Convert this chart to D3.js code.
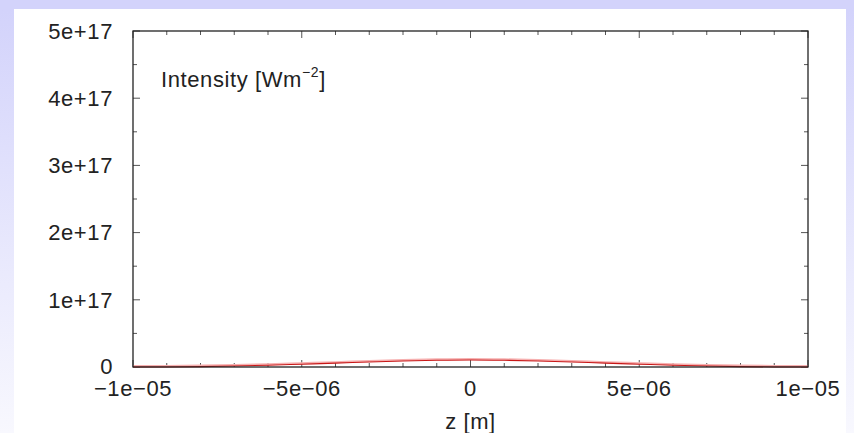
<!DOCTYPE html>
<html><head><meta charset="utf-8">
<script src="https://cdn.jsdelivr.net/npm/d3@7"></script>
<style>html,body{margin:0;padding:0;overflow:hidden;}</style>
</head><body>
<script>
const zValues = [-10e-6,-9e-6,-8e-6,-7e-6,-6e-6,-5e-6,-4e-6,-3e-6,-2e-6,-1e-6,0,1e-6,2e-6,3e-6,4e-6,5e-6,6e-6,7e-6,8e-6,9e-6,10e-6];
const intensity = [0,0.01e16,0.06e16,0.15e16,0.27e16,0.42e16,0.57e16,0.75e16,0.90e16,1.0e16,1.05e16,1.0e16,0.90e16,0.75e16,0.57e16,0.42e16,0.27e16,0.15e16,0.06e16,0.01e16,0];
const xMajorTicks = [-1e-5,-5e-6,0,5e-6,1e-5];
const xTickLabels = ["\u22121e\u221205","\u22125e\u221206","0","5e\u221206","1e\u221205"];
const yMajorTicks = [0,1e17,2e17,3e17,4e17,5e17];
const yTickLabels = ["0","1e+17","2e+17","3e+17","4e+17","5e+17"];
const xTitle = "z [m]";
const seriesLabel = "Intensity [Wm";
const seriesLabelSup = "\u22122";

(function(){
const W = 854, H = 433;
const svg = d3.select("body").append("svg").attr("width", W).attr("height", H);
const defs = svg.append("defs");
const g1 = defs.append("linearGradient").attr("id","bg").attr("x1",0).attr("y1",0).attr("x2",0).attr("y2",1);
g1.append("stop").attr("offset","0%").attr("stop-color","#d2d2fb");
g1.append("stop").attr("offset","100%").attr("stop-color","#f8f8fe");
svg.append("rect").attr("width",W).attr("height",H).attr("fill","url(#bg)");
svg.append("rect").attr("x",0).attr("y",0).attr("width",W).attr("height",9).attr("fill","#d3d3fb");
svg.append("rect").attr("x",14).attr("y",9).attr("width",832).attr("height",H-9).attr("fill","#ffffff");

const mLeft = 133, mRight = 808, mTop = 31, mBottom = 367;
const x = d3.scaleLinear().domain([-1e-5, 1e-5]).range([mLeft, mRight]);
const y = d3.scaleLinear().domain([0, 5e17]).range([mBottom, mTop]);

const axisColor = "#222";
const font = "Liberation Sans, Arial, sans-serif";
const fs = 22;
const ls = 0.6;

const xMinor = d3.range(-10, 11).map(v => v * 1e-6);
const yMinor = d3.range(0, 11).map(v => v * 5e16);
const tg = svg.append("g").attr("stroke", "#555").attr("stroke-width", 1);
xMinor.forEach(v => {
  const major = xMajorTicks.some(m => Math.abs(m - v) < 1e-12);
  const len = major ? 7 : 4;
  tg.append("line").attr("x1", x(v)).attr("x2", x(v)).attr("y1", mBottom).attr("y2", mBottom - len);
  tg.append("line").attr("x1", x(v)).attr("x2", x(v)).attr("y1", mTop).attr("y2", mTop + len);
});
yMinor.forEach(v => {
  const major = yMajorTicks.some(m => Math.abs(m - v) < 1);
  const len = major ? 7 : 4;
  tg.append("line").attr("x1", mLeft).attr("x2", mLeft + len).attr("y1", y(v)).attr("y2", y(v));
  tg.append("line").attr("x1", mRight).attr("x2", mRight - len).attr("y1", y(v)).attr("y2", y(v));
});

const line = d3.line().x((d, i) => x(zValues[i])).y(d => y(d)).curve(d3.curveMonotoneX);
svg.append("path").datum(intensity).attr("d", line).attr("fill", "none")
  .attr("stroke", "#f6b0b0").attr("stroke-width", 2).attr("transform","translate(0,-1)");
svg.append("path").datum(intensity).attr("d", line).attr("fill", "none")
  .attr("stroke", "#c81818").attr("stroke-width", 1.1);

svg.append("rect").attr("x", mLeft).attr("y", mTop).attr("width", mRight - mLeft).attr("height", mBottom - mTop)
  .attr("fill", "none").attr("stroke", axisColor).attr("stroke-width", 1.3);

svg.append("g").selectAll("text").data(yMajorTicks).join("text")
  .attr("x", 113).attr("y", d => y(d) - (d === 0 ? 1 : 0)).attr("dy", "0.35em").attr("text-anchor", "end")
  .attr("font-family", font).attr("font-size", fs).attr("letter-spacing", ls).attr("fill", "#222")
  .text((d, i) => yTickLabels[i]);
svg.append("g").selectAll("text").data(xMajorTicks).join("text")
  .attr("x", d => x(d)).attr("y", 388).attr("dy", "0.35em").attr("text-anchor", "middle")
  .attr("font-family", font).attr("font-size", fs).attr("letter-spacing", ls).attr("fill", "#222")
  .text((d, i) => xTickLabels[i]);

svg.append("text").attr("x", (mLeft + mRight) / 2).attr("y", 421).attr("dy", "0.35em").attr("text-anchor", "middle")
  .attr("font-family", font).attr("font-size", fs).attr("letter-spacing", ls).attr("fill", "#222").text(xTitle);

const lab = svg.append("text").attr("x", 161).attr("y", 87)
  .attr("font-family", font).attr("font-size", fs).attr("letter-spacing", ls).attr("fill", "#222");
lab.append("tspan").text(seriesLabel);
lab.append("tspan").attr("dy", -10).attr("font-size", 14).text(seriesLabelSup);
lab.append("tspan").attr("dy", 10).text("]");
})();
</script>
</body></html>
